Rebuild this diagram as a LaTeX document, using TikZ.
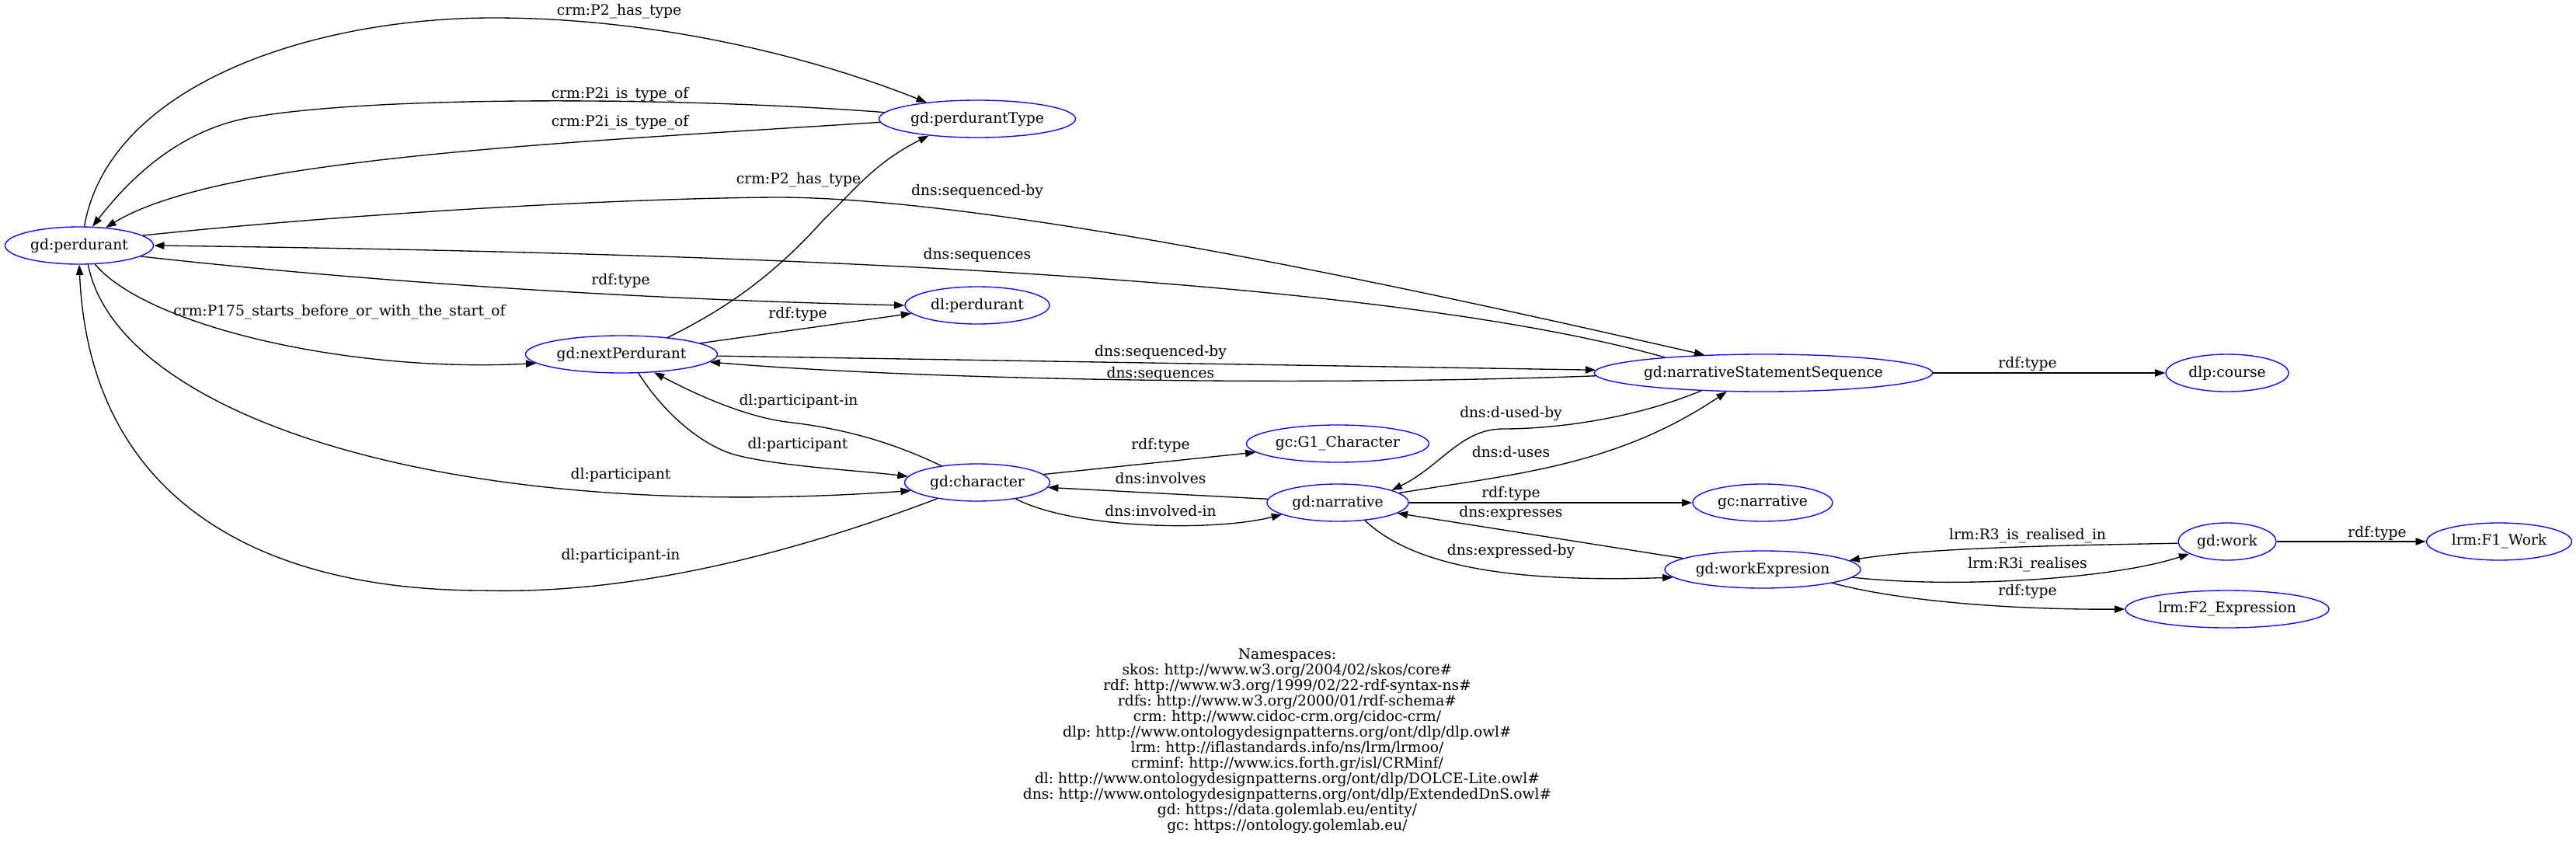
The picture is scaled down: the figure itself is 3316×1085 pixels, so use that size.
\documentclass[tikz,border=0pt]{standalone}
\usepackage{fontspec}
\setmainfont{DejaVu Serif}[Ligatures=NoCommon]
\usetikzlibrary{arrows.meta, shapes.geometric}
\frenchspacing

\begin{document}
\begin{tikzpicture}[
  x=0.75pt, y=-0.75pt,
  font=\fontsize{14pt}{15pt}\selectfont,
  ent/.style={ellipse, draw=blue, line width=1pt, inner sep=0pt,
              minimum height=36pt, minimum width=#1*0.75pt},
  lbl/.style={inner sep=0pt, text height=10pt, text depth=3pt},
  rel/.style={-{Triangle[length=10pt, width=7pt]}, line width=1pt},
]
\useasboundingbox (0,0) rectangle (3316,1085);
% entities
\node[ent=191] (perd)   at (102,316)  {gd:perdurant};
\node[ent=253] (ptype)  at (1258,153) {gd:perdurantType};
\node[ent=186] (dlperd) at (1258,393) {dl:perdurant};
\node[ent=247] (next)   at (800,456)  {gd:nextPerdurant};
\node[ent=187] (char)   at (1258,621) {gd:character};
\node[ent=235] (g1)     at (1722,571) {gc:G1\_Character};
\node[ent=182] (narr)   at (1722,647) {gd:narrative};
\node[ent=431] (nss)    at (2270,480) {gd:narrativeStatementSequence};
\node[ent=180] (gcnarr) at (2269,647) {gc:narrative};
\node[ent=252] (wexp)   at (2269,733) {gd:workExpresion};
\node[ent=158] (course) at (2867,480) {dlp:course};
\node[ent=126] (work)   at (2867,697) {gd:work};
\node[ent=262] (f2)     at (2867,784) {lrm:F2\_Expression};
\node[ent=187] (f1)     at (3217,697) {lrm:F1\_Work};
% relations
\draw[rel] (perd.75) .. controls (140,110) and (400,23) .. (635,23)
  .. controls (850,23) and (1050,75) .. (ptype.162);
\draw[rel] (ptype.176) .. controls (900,126) and (500,122) .. (330,150)
  .. controls (260,160) and (190,200) .. (perd.55);
\draw[rel] (ptype.182) .. controls (700,185) and (280,205) .. (perd.34);
\draw[rel] (next.20) .. controls (940,395) and (1000,350) .. (1060,283)
  .. controls (1100,245) and (1125,210) .. (ptype.199);
\draw[rel] (perd.9) .. controls (450,275) and (800,255) .. (1000,254)
  .. controls (1300,254) and (1900,390) .. (nss.163);
\draw[rel] (nss.171) .. controls (1750,350) and (900,325) .. (perd.east);
\draw[rel] (perd.350) .. controls (450,360) and (800,385) .. (dlperd.west);
\draw[rel] (next.8) -- (dlperd.187);
\draw[rel] (perd.310) .. controls (190,420) and (450,480) .. (next.186);
\draw[rel] (perd.295) .. controls (150,530) and (560,675) .. (char.187);
\draw[rel] (char.202) .. controls (1000,720) and (800,765) .. (622,760)
  .. controls (330,760) and (115,640) .. (perd.south);
\draw[rel] (next.312) .. controls (860,540) and (910,575) .. (945,585)
  .. controls (1000,600) and (1100,605) .. (char.175);
\draw[rel] (char.155) .. controls (1160,575) and (1100,553) .. (1012,543)
  .. controls (960,536) and (900,510) .. (next.331);
\draw[rel] (next.359) -- (nss.179);
\draw[rel] (nss.181) .. controls (1700,497) and (1200,490) .. (next.355);
\draw[rel] (nss.east) -- (course.west);
\draw[rel] (char.7) -- (g1.186);
\draw[rel] (narr.177) -- (char.356);
\draw[rel] (char.337) .. controls (1380,680) and (1560,685) .. (narr.192);
\draw[rel] (nss.196) .. controls (2100,540) and (2000,552) .. (1935,552)
  .. controls (1880,552) and (1855,600) .. (narr.13);
\draw[rel] (narr.9) .. controls (1950,610) and (2080,600) .. (nss.207);
\draw[rel] (narr.east) -- (gcnarr.west);
\draw[rel] (wexp.172) -- (narr.350);
\draw[rel] (narr.327) .. controls (1820,730) and (1950,750) .. (wexp.185);
\draw[rel] (work.182) .. controls (2650,702) and (2480,705) .. (wexp.6);
\draw[rel] (wexp.355) .. controls (2520,758) and (2720,745) .. (work.198);
\draw[rel] (work.east) -- (f1.west);
\draw[rel] (wexp.349) .. controls (2450,775) and (2600,785) .. (f2.west);
% relation labels
\node[lbl] (lP2a)     at (797,15)   {crm:P2\_has\_type};
\node[lbl] (lP2ia)    at (798,122)  {crm:P2i\_is\_type\_of};
\node[lbl] (lP2ib)    at (798,158)  {crm:P2i\_is\_type\_of};
\node[lbl] (lP2b)     at (1028,232) {crm:P2\_has\_type};
\node[lbl] (lSeqByA)  at (1258,247) {dns:sequenced-by};
\node[lbl] (lSeqA)    at (1258,329) {dns:sequences};
\node[lbl] (lTypeA)   at (799,362)  {rdf:type};
\node[lbl] (lTypeB)   at (1027,405) {rdf:type};
\node[lbl] (lP175)    at (437,402)  {crm:P175\_starts\_before\_or\_with\_the\_start\_of};
\node[lbl] (lPartA)   at (799,612)  {dl:participant};
\node[lbl] (lPartInA) at (799,716)  {dl:participant-in};
\node[lbl] (lPartB)   at (1027,573) {dl:participant};
\node[lbl] (lPartInB) at (1028,517) {dl:participant-in};
\node[lbl] (lSeqByB)  at (1494,454) {dns:sequenced-by};
\node[lbl] (lSeqB)    at (1494,482) {dns:sequences};
\node[lbl] (lTypeC)   at (1494,574) {rdf:type};
\node[lbl] (lInv)     at (1494,618) {dns:involves};
\node[lbl] (lInvIn)   at (1494,660) {dns:involved-in};
\node[lbl] (lDUsedBy) at (1945,533) {dns:d-used-by};
\node[lbl] (lDUses)   at (1945,584) {dns:d-uses};
\node[lbl] (lTypeD)   at (1945,636) {rdf:type};
\node[lbl] (lExpr)    at (1945,661) {dns:expresses};
\node[lbl] (lExprBy)  at (1945,710) {dns:expressed-by};
\node[lbl] (lTypeE)   at (2610,469) {rdf:type};
\node[lbl] (lR3)      at (2610,690) {lrm:R3\_is\_realised\_in};
\node[lbl] (lR3i)     at (2610,727) {lrm:R3i\_realises};
\node[lbl] (lTypeF)   at (3060,687) {rdf:type};
\node[lbl] (lTypeG)   at (2610,762) {rdf:type};
% namespaces
\node[align=center, inner sep=0pt] (ns) at (1657,954) {Namespaces:\\
  skos: http://www.w3.org/2004/02/skos/core\#\\
  rdf: http://www.w3.org/1999/02/22-rdf-syntax-ns\#\\
  rdfs: http://www.w3.org/2000/01/rdf-schema\#\\
  crm: http://www.cidoc-crm.org/cidoc-crm/\\
  dlp: http://www.ontologydesignpatterns.org/ont/dlp/dlp.owl\#\\
  lrm: http://iflastandards.info/ns/lrm/lrmoo/\\
  crminf: http://www.ics.forth.gr/isl/CRMinf/\\
  dl: http://www.ontologydesignpatterns.org/ont/dlp/DOLCE-Lite.owl\#\\
  dns: http://www.ontologydesignpatterns.org/ont/dlp/ExtendedDnS.owl\#\\
  gd: https://data.golemlab.eu/entity/\\
  gc: https://ontology.golemlab.eu/};
\end{tikzpicture}
\end{document}
